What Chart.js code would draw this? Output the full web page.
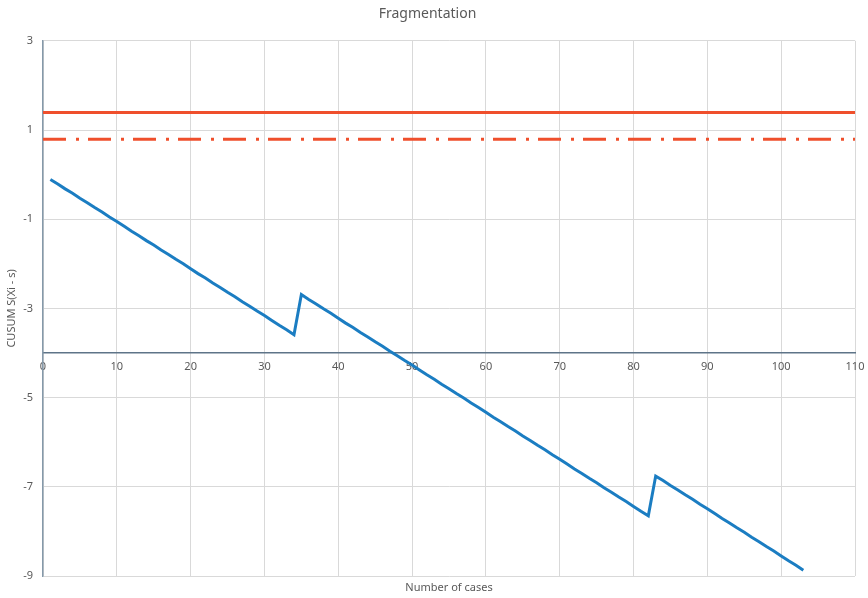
<!DOCTYPE html>
<html>
<head>
<meta charset="utf-8">
<script src="https://cdn.jsdelivr.net/npm/chart.js@4/dist/chart.umd.min.js"></script>
<style>
  html, body { margin: 0; padding: 0; background: #fff; }
  #wrap { width: 868px; height: 598px; }
</style>
</head>
<body>
<div id="wrap"><canvas id="chart"></canvas></div>
<script>
// case numbers and cusum values
const cases = [1,2,3,4,5,6,7,8,9,10,11,12,13,14,15,16,17,18,19,20,
  21,22,23,24,25,26,27,28,29,30,31,32,33,34,35,36,37,38,39,40,
  41,42,43,44,45,46,47,48,49,50,51,52,53,54,55,56,57,58,59,60,
  61,62,63,64,65,66,67,68,69,70,71,72,73,74,75,76,77,78,79,80,
  81,82,83,84,85,86,87,88,89,90,91,92,93,94,95,96,97,98,99,100,
  101,102,103];
const cusum = [-0.11,-0.21,-0.32,-0.42,-0.53,-0.63,-0.74,-0.84,-0.95,-1.05,
  -1.16,-1.27,-1.37,-1.48,-1.58,-1.69,-1.79,-1.90,-2.00,-2.11,
  -2.22,-2.32,-2.43,-2.53,-2.64,-2.74,-2.85,-2.95,-3.06,-3.16,
  -3.27,-3.38,-3.48,-3.59,-2.69,-2.80,-2.90,-3.01,-3.11,-3.22,
  -3.33,-3.43,-3.54,-3.64,-3.75,-3.85,-3.96,-4.06,-4.17,-4.27,
  -4.38,-4.49,-4.59,-4.70,-4.80,-4.91,-5.01,-5.12,-5.22,-5.33,
  -5.44,-5.54,-5.65,-5.75,-5.86,-5.96,-6.07,-6.17,-6.28,-6.38,
  -6.49,-6.60,-6.70,-6.81,-6.91,-7.02,-7.12,-7.23,-7.33,-7.44,
  -7.55,-7.65,-6.76,-6.86,-6.97,-7.07,-7.18,-7.28,-7.39,-7.49,
  -7.60,-7.71,-7.81,-7.92,-8.02,-8.13,-8.23,-8.34,-8.44,-8.55,
  -8.66,-8.76,-8.87];
// control limits
const limitX = [0, 110];
const upperLimit = [1.39, 1.39];
const lowerLimit = [0.79, 0.79];

const font = "'Noto Sans', 'Liberation Sans', sans-serif";
const grey = "#595959";

const toPoints = (xs, ys) => xs.map((x, i) => ({ x: x, y: ys[i] }));

new Chart(document.getElementById("chart"), {
  type: "line",
  data: {
    datasets: [
      {
        label: "CUSUM",
        data: toPoints(cases, cusum),
        borderColor: "#1b7dc2",
        borderWidth: 3,
        pointRadius: 0,
        tension: 0,
        xAxisID: "x"
      },
      {
        label: "h1",
        data: toPoints(limitX, upperLimit),
        borderColor: "#ef4f2c",
        borderWidth: 3,
        pointRadius: 0,
        xAxisID: "x"
      },
      {
        label: "h0",
        data: toPoints(limitX, lowerLimit),
        borderColor: "#ef4f2c",
        borderWidth: 3,
        borderDash: [23, 10, 3, 9],
        pointRadius: 0,
        xAxisID: "x"
      }
    ]
  },
  options: {
    responsive: true,
    maintainAspectRatio: false,
    animation: false,
    layout: { padding: { top: 0, right: 13, bottom: 0, left: 0 } },
    plugins: {
      legend: { display: false },
      tooltip: { enabled: false },
      title: {
        display: true,
        text: "Fragmentation",
        color: grey,
        font: { family: font, size: 14, weight: "normal" },
        padding: { top: 6, bottom: 18 }
      }
    },
    scales: {
      x: {
        type: "linear",
        position: { y: -4 },
        min: 0,
        max: 110,
        ticks: { stepSize: 10, color: grey, padding: 7, font: { family: font, size: 11 } },
        grid: { color: "#d9d9d9", drawTicks: false },
        border: { color: "#5e7488", width: 1.5 },
        afterFit: s => { s.paddingRight = 0; s.paddingLeft = 0; }
      },
      x2: {
        type: "linear",
        position: "bottom",
        min: 0,
        max: 110,
        ticks: { display: false },
        grid: { display: false, drawTicks: false },
        border: { display: false },
        title: {
          display: true,
          text: "Number of cases",
          color: grey,
          font: { family: font, size: 11 },
          padding: { top: 2, bottom: 4 }
        },
        afterFit: s => { s.height = 22; s.paddingRight = 0; s.paddingLeft = 0; }
      },
      y: {
        min: -9,
        max: 3,
        ticks: { stepSize: 2, color: grey, padding: 10, font: { family: font, size: 11 } },
        grid: { color: "#d9d9d9", drawTicks: false },
        border: { color: "#8599aa", width: 1.5 },
        title: {
          display: true,
          text: "CUSUM S(Xi - s)",
          color: grey,
          font: { family: font, size: 11 },
          padding: { top: 5, bottom: 0 }
        },
        afterFit: s => { s.width = 43; }
      }
    }
  }
});
</script>
</body>
</html>
